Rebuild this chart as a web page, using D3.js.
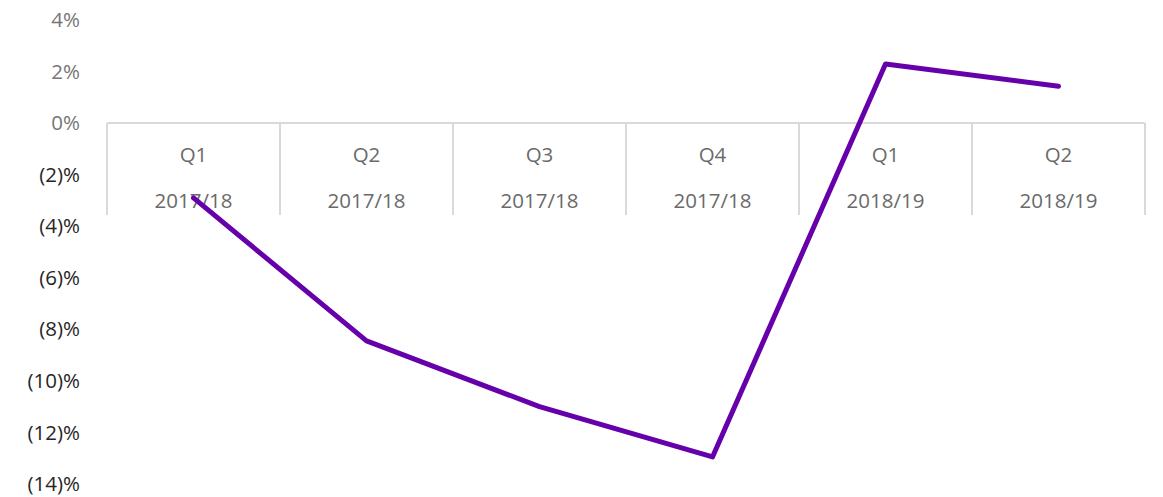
<!DOCTYPE html>
<html>
<head>
<meta charset="utf-8">
<script src="https://cdn.jsdelivr.net/npm/d3@7"></script>
<style>
  body { margin: 0; background: #fff; }
  text { font-family: "Open Sans", "Noto Sans", sans-serif; }
</style>
</head>
<body>
<div id="chart"></div>
<script>
const quarters = ["Q1", "Q2", "Q3", "Q4", "Q1", "Q2"]
const years = ["2017/18", "2017/18", "2017/18", "2017/18", "2018/19", "2018/19"]
const growth = [-0.029, -0.0845, -0.110, -0.1295, 0.0229, 0.0143]
const yTicks = [0.04, 0.02, 0, -0.02, -0.04, -0.06, -0.08, -0.10, -0.12, -0.14]

const W = 1163, H = 497
const MARGIN = { TOP: 20, BOTTOM: 13, LEFT: 107, RIGHT: 18 }
const FONT = "20.5px"

const svg = d3.select("#chart").append("svg")
  .attr("width", W)
  .attr("height", H)

const keys = quarters.map((q, i) => i)

const x = d3.scaleBand()
  .domain(keys)
  .range([MARGIN.LEFT, W - MARGIN.RIGHT])

const y = d3.scaleLinear()
  .domain([-0.14, 0.04])
  .range([H - MARGIN.BOTTOM, MARGIN.TOP])

const fmt = v => {
  const p = Math.round(Math.abs(v) * 100)
  return v < 0 ? `(${p})%` : `${p}%`
}

// y axis labels, no line
const yAxis = d3.axisLeft(y).tickValues(yTicks).tickFormat(fmt).tickSize(0).tickPadding(0)
const yg = svg.append("g")
  .attr("transform", "translate(80,0)")
  .call(yAxis)
yg.select(".domain").remove()
yg.selectAll("text")
  .attr("font-size", FONT)
  .attr("font-family", "'Open Sans', sans-serif")
  .attr("fill", d => d < 0 ? "#262626" : "#767676")

// category axis at zero with box separators
const y0 = y(0)
const boxH = 92
const axisG = svg.append("g")
axisG.append("line")
  .attr("x1", x.range()[0]).attr("x2", x.range()[1])
  .attr("y1", y0).attr("y2", y0)
  .attr("stroke", "#d9d9d9").attr("stroke-width", 2)

const edges = keys.map(k => x(k)).concat([x.range()[1]])
axisG.selectAll("line.sep")
  .data(edges)
  .enter().append("line")
  .attr("class", "sep")
  .attr("x1", d => d).attr("x2", d => d)
  .attr("y1", y0).attr("y2", y0 + boxH)
  .attr("stroke", "#d9d9d9").attr("stroke-width", 2)

axisG.selectAll("text.q")
  .data(keys)
  .enter().append("text")
  .attr("class", "q")
  .attr("x", d => x(d) + x.bandwidth() / 2)
  .attr("y", y0 + 39)
  .attr("text-anchor", "middle")
  .attr("font-size", FONT)
  .attr("fill", "#6a6a6a")
  .text(d => quarters[d])

axisG.selectAll("text.yr")
  .data(keys)
  .enter().append("text")
  .attr("class", "yr")
  .attr("x", d => x(d) + x.bandwidth() / 2)
  .attr("y", y0 + 85)
  .attr("text-anchor", "middle")
  .attr("font-size", FONT)
  .attr("fill", "#6a6a6a")
  .text(d => years[d])

// line
const line = d3.line()
  .x((d, i) => x(i) + x.bandwidth() / 2)
  .y(d => y(d))

svg.append("path")
  .datum(growth)
  .attr("d", line)
  .attr("fill", "none")
  .attr("stroke", "#6600aa")
  .attr("stroke-width", 5)
  .attr("stroke-linecap", "round")
  .attr("stroke-linejoin", "round")
</script>
</body>
</html>
